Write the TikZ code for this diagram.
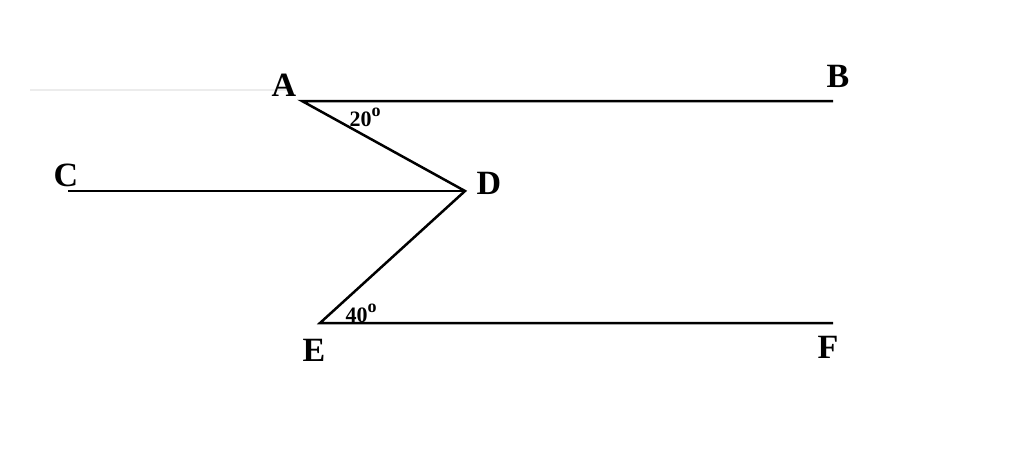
\documentclass[tikz,border=0pt]{standalone}
\usepackage{fontspec}
\setmainfont{Liberation Serif}
\begin{document}
\begin{tikzpicture}[x=1pt,y=-1pt,
 lbl/.style={font=\fontsize{34}{34}\selectfont\bfseries,inner sep=0pt},
 ang/.style={font=\fontsize{22}{22}\selectfont\bfseries,inner sep=0pt},
 ln/.style={line width=2.5pt}]
\useasboundingbox (0,0) rectangle (1024,474);
\coordinate (A) at (302,101);
\coordinate (B) at (833,101);
\coordinate (C) at (68,191);
\coordinate (D) at (465,191);
\coordinate (E) at (320,323);
\coordinate (F) at (833,323);
\coordinate (g1) at (30,90);
\coordinate (g2) at (290,90);
\draw[gray!15,line width=1.5pt] (g1) -- (g2);
\draw[ln] (B) -- (A) -- (D) -- (E) -- (F);
\draw[ln] (C) -- (D);
\node[lbl] (lA) at (284,85) {A};
\node[lbl] (lB) at (838,76) {B};
\node[lbl] (lC) at (66,175) {C};
\node[lbl] (lD) at (489,183) {D};
\node[lbl] (lE) at (314,350) {E};
\node[lbl] (lF) at (828,347) {F};
\node[ang] (a1) at (365,117) {20\raisebox{0.45em}{\fontsize{18}{18}\selectfont o}};
\node[ang] (a2) at (361,313) {40\raisebox{0.45em}{\fontsize{18}{18}\selectfont o}};
\end{tikzpicture}
\end{document}
